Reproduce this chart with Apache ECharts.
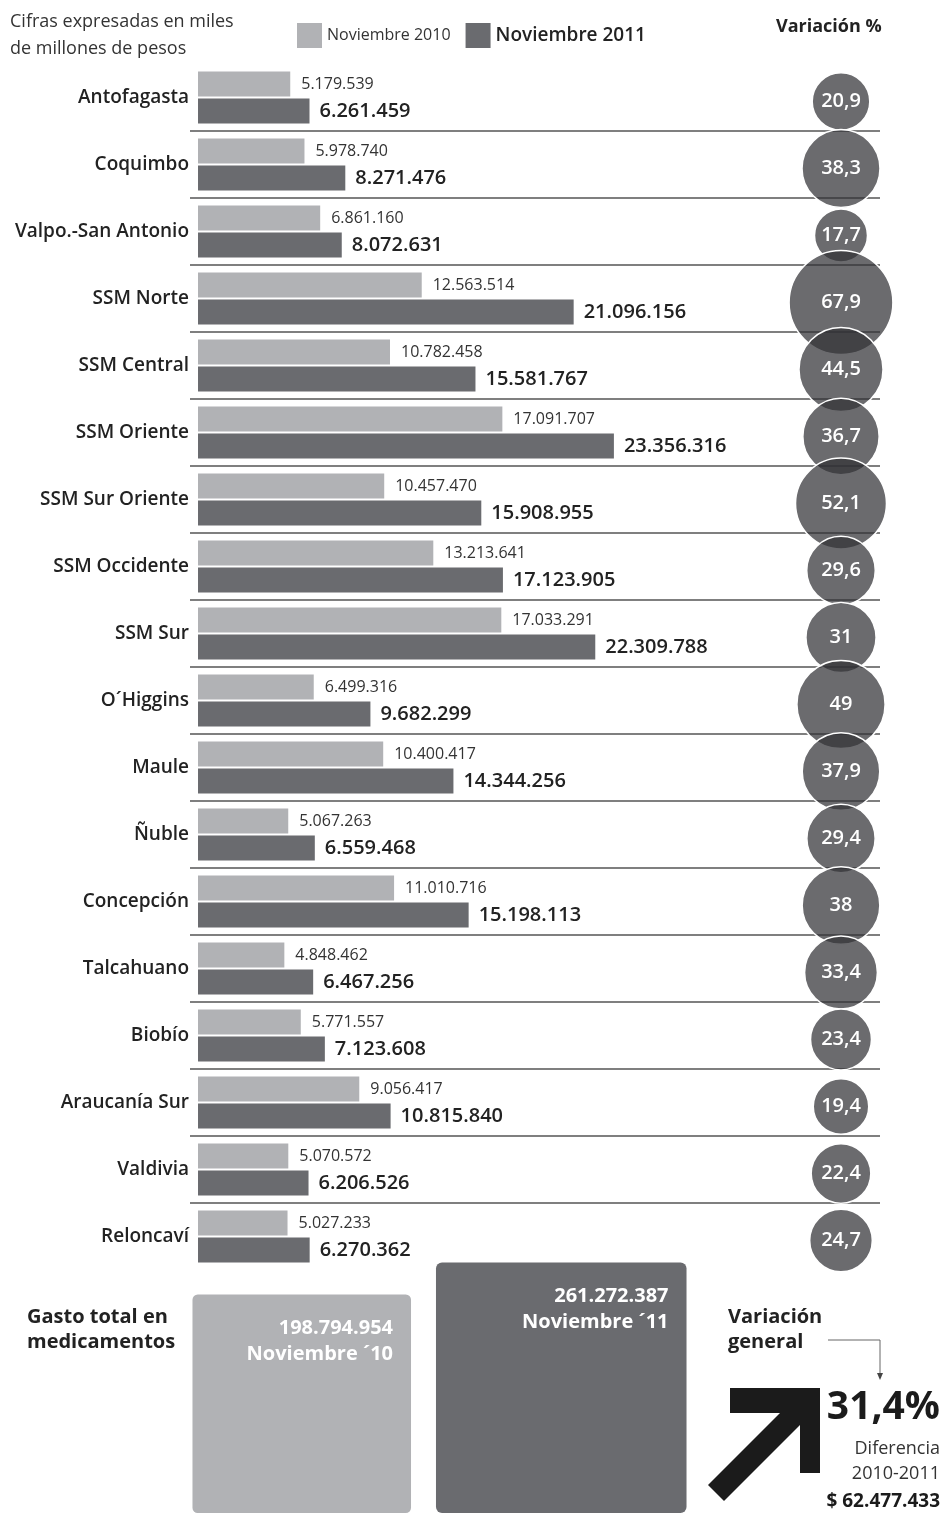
<!DOCTYPE html>
<html>
<head>
    <meta http-equiv="Content-Type" content="text/html; charset=utf-8"/>
    <script type="text/javascript" src="https://cdn.jsdelivr.net/npm/echarts@6/dist/echarts.min.js"></script>
    <style>
        body { margin: 0; background: #fff; }
        #main { width: 943px; height: 1515px; }
    </style>
</head>
<body>
<div id="main"></div>
<script type="text/javascript">
    // 数据
    var categories = ['Antofagasta', 'Coquimbo', 'Valpo.-San Antonio', 'SSM Norte', 'SSM Central',
        'SSM Oriente', 'SSM Sur Oriente', 'SSM Occidente', 'SSM Sur', 'O´Higgins', 'Maule', 'Ñuble',
        'Concepción', 'Talcahuano', 'Biobío', 'Araucanía Sur', 'Valdivia', 'Reloncaví'];
    var nov2010 = [5179539, 5978740, 6861160, 12563514, 10782458, 17091707, 10457470, 13213641,
        17033291, 6499316, 10400417, 5067263, 11010716, 4848462, 5771557, 9056417, 5070572, 5027233];
    var nov2011 = [6261459, 8271476, 8072631, 21096156, 15581767, 23356316, 15908955, 17123905,
        22309788, 9682299, 14344256, 6559468, 15198113, 6467256, 7123608, 10815840, 6206526, 6270362];
    var variacion = [20.9, 38.3, 17.7, 67.9, 44.5, 36.7, 52.1, 29.6, 31, 49, 37.9, 29.4, 38, 33.4,
        23.4, 19.4, 22.4, 24.7];
    var totalNames = ['Noviembre ´10', 'Noviembre ´11'];
    var totals = [198794954, 261272387];

    var FONT = '"Open Sans", "Noto Sans", sans-serif';
    var LIGHT = '#b1b2b5';
    var DARK = '#6a6b6f';

    function fmt(n) {
        return String(Math.round(n)).replace(/\B(?=(\d{3})+(?!\d))/g, '.');
    }
    function pct(v) {
        return String(v).replace('.', ',');
    }

    var bubbleData = [];
    for (var i = 0; i < categories.length; i++) {
        bubbleData.push([0, i, variacion[i]]);
    }
    var boxData = [];
    for (var j = 0; j < totals.length; j++) {
        boxData.push({
            value: [j, 0, totals[j]],
            itemStyle: {color: j === 0 ? LIGHT : DARK}
        });
    }
    var diff = totals[1] - totals[0];
    var diffPct = (diff / totals[0] * 100).toFixed(1).replace('.', ',');

    var gridTop = 64, rowH = 67;
    var gridH = rowH * categories.length;

    var myChart = echarts.init(document.getElementById('main'));
    var option = {
        animation: false,
        textStyle: {fontFamily: FONT},
        legend: {
            left: 297,
            top: 23,
            padding: 0,
            itemWidth: 25,
            itemHeight: 25,
            itemGap: 15,
            icon: 'rect',
            selectedMode: false,
            data: [
                {name: 'Noviembre 2010', textStyle: {fontSize: 16, color: '#333', fontFamily: FONT}},
                {name: 'Noviembre 2011', textStyle: {fontSize: 19, color: '#222', fontWeight: 600, fontFamily: FONT}}
            ]
        },
        grid: [
            {left: 190, top: gridTop, width: 690, height: gridH},
            {left: 801, top: gridTop + 4, width: 80, height: gridH},
            {left: 172, width: 519, top: 1250, bottom: 2}
        ],
        xAxis: [
            {gridIndex: 0, type: 'value', min: -450000, max: 38300000, show: false},
            {gridIndex: 1, type: 'value', min: -1, max: 1, show: false},
            {gridIndex: 2, type: 'category', data: totalNames, show: false}
        ],
        yAxis: [
            {
                gridIndex: 0, type: 'category', data: categories, inverse: true,
                axisLine: {show: false}, axisTick: {show: false},
                axisLabel: {margin: 1, fontSize: 19, fontWeight: 600, color: '#222', fontFamily: FONT},
                splitLine: {show: true, showMinLine: false, showMaxLine: false,
                    lineStyle: {color: '#555', width: 1.5}}
            },
            {gridIndex: 1, type: 'category', data: categories, inverse: true, show: false},
            {gridIndex: 2, type: 'value', min: 0, max: 1, show: false}
        ],
        series: [
            {
                name: 'Noviembre 2010', type: 'bar', xAxisIndex: 0, yAxisIndex: 0,
                data: nov2010, barWidth: 25, barGap: '8%',
                itemStyle: {color: LIGHT},
                label: {show: true, position: 'right', distance: 11, fontSize: 16, color: '#333',
                    fontFamily: FONT, formatter: function (p) { return fmt(p.value); }}
            },
            {
                name: 'Noviembre 2011', type: 'bar', xAxisIndex: 0, yAxisIndex: 0,
                data: nov2011, barWidth: 25,
                itemStyle: {color: DARK},
                label: {show: true, position: 'right', distance: 10, fontSize: 20, fontWeight: 600,
                    color: '#222', fontFamily: FONT, formatter: function (p) { return fmt(p.value); }}
            },
            {
                type: 'scatter', xAxisIndex: 1, yAxisIndex: 1,
                data: bubbleData,
                symbolSize: function (d) { return 12.6 * Math.sqrt(d[2]); },
                itemStyle: {color: 'rgba(50,50,54,0.72)', borderColor: '#fff', borderWidth: 1.5, opacity: 1},
                label: {show: true, position: 'inside', color: '#fff', fontSize: 20, fontWeight: 600,
                    fontFamily: FONT, formatter: function (p) { return pct(p.value[2]); }},
                z: 5
            },
            {
                type: 'scatter', xAxisIndex: 2, yAxisIndex: 2,
                data: boxData,
                symbol: 'path://M6,0H244A6,6,0,0,1,250,6V244A6,6,0,0,1,244,250H6A6,6,0,0,1,0,244V6A6,6,0,0,1,6,0Z',
                symbolSize: function (d) { return 15.5 * Math.sqrt(d[2] / 1e6); },
                symbolOffset: [0, '-50%'],
                itemStyle: {opacity: 1},
                label: {
                    show: true, position: 'insideTopRight', distance: 18, offset: [0, 3],
                    formatter: function (p) { return '{a|' + fmt(p.value[2]) + '}\n{a|' + p.name + '}'; },
                    rich: {a: {fontSize: 20, fontWeight: 700, color: '#fff', lineHeight: 26, align: 'right', fontFamily: FONT}}
                }
            }
        ],
        graphic: [
            {type: 'text', left: 10, top: 8,
                style: {text: 'Cifras expresadas en miles\nde millones de pesos', fontSize: 18, lineHeight: 27,
                    fill: '#333', fontFamily: FONT}},
            {type: 'text', left: 776, top: 18,
                style: {text: 'Variación %', fontSize: 18, fontWeight: 700, fill: '#222', fontFamily: FONT}},
            {type: 'text', left: 27, top: 1305,
                style: {text: 'Gasto total en\nmedicamentos', fontSize: 20, lineHeight: 25, fontWeight: 700,
                    fill: '#222', fontFamily: FONT}},
            {type: 'text', left: 728, top: 1305,
                style: {text: 'Variación\ngeneral', fontSize: 20, lineHeight: 25, fontWeight: 700,
                    fill: '#222', fontFamily: FONT}},
            {type: 'polyline', shape: {points: [[828, 1340], [880, 1340], [880, 1374]]},
                style: {stroke: '#666', lineWidth: 1, fill: null}},
            {type: 'polygon', shape: {points: [[877, 1373], [883, 1373], [880, 1380]]},
                style: {fill: '#444'}},
            {type: 'polygon',
                shape: {points: [[730, 1388], [820, 1388], [820, 1473], [800, 1473], [800, 1425],
                    [724, 1501], [708, 1485], [780, 1413], [730, 1413]]},
                style: {fill: '#1b1b1b'}},
            {type: 'text', x: 940, y: 1408,
                style: {text: diffPct + '%', fontSize: 39, fontWeight: 700, fill: '#1b1b1b',
                    align: 'right', verticalAlign: 'middle', fontFamily: FONT}},
            {type: 'text', x: 940, y: 1436,
                style: {text: 'Diferencia\n2010-2011', fontSize: 18, lineHeight: 25, fill: '#333',
                    align: 'right', verticalAlign: 'top', fontFamily: FONT}},
            {type: 'text', x: 940, y: 1502,
                style: {text: '$ ' + fmt(diff), fontSize: 19, fontWeight: 700, fill: '#1b1b1b',
                    align: 'right', verticalAlign: 'middle', fontFamily: FONT}}
        ]
    };
    myChart.setOption(option);
</script>
</body>
</html>
